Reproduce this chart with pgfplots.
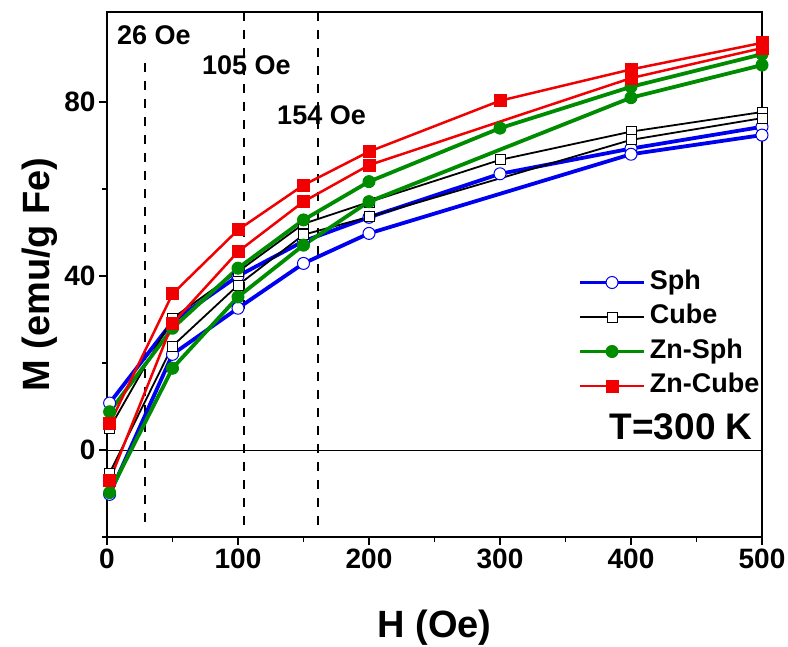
\documentclass[border=0pt]{standalone}
\usepackage{fontspec}
\setmainfont{Liberation Sans}
\usepackage{pgfplots}
\pgfplotsset{compat=1.18}
\definecolor{cblue}{RGB}{0,0,240}
\definecolor{cgreen}{RGB}{0,140,0}
\definecolor{cred}{RGB}{240,0,0}
\begin{document}
\begin{tikzpicture}
\begin{axis}[name=ax, scale only axis, width=655pt, height=525pt,
  xmin=0, xmax=500, ymin=-20, ymax=100.7,
  xtick={0,100,...,500}, minor xtick={50,150,...,450},
  ytick={0,40,80}, minor ytick={-20,20,60},
  tick align=outside, tick pos=left,
  major tick length=8pt, minor tick length=5pt,
  every tick/.style={black, line width=1.5pt},
  axis line style={line width=1.5pt},
  /pgf/number format/assume math mode=true,
  ticklabel style={font=\fontsize{28}{30}\selectfont\bfseries},
  xlabel={H (Oe)}, ylabel={M (emu/g Fe)},
  label style={font=\fontsize{38}{40}\selectfont\bfseries},
  xlabel style={at={(axis description cs:0.5,-0.1733)}, anchor=center},
  ylabel style={at={(axis description cs:-0.1023,0.5)}, anchor=center},
  legend cell align=left,
  legend image code/.code={\draw[mark repeat=2,mark phase=2,#1] plot coordinates {(0pt,0pt) (32pt,0pt) (64pt,0pt)};},
  legend style={draw=none, fill=none, at={(rel axis cs:0.719,0.518)}, anchor=north west,
    font=\fontsize{27}{29}\selectfont\bfseries, inner sep=0pt, row sep=0pt,
    nodes={text height=20pt, text depth=6.5pt, inner sep=4pt}},
]
% reference lines
\addplot[forget plot, black, line width=1pt] coordinates {(0,0) (500,0)};
\addplot[forget plot, black, line width=1.5pt, dash pattern=on 9pt off 9pt] coordinates {(29,89) (29,-18)};
\addplot[forget plot, black, line width=1.5pt, dash pattern=on 9pt off 9pt] coordinates {(104.6,100.7) (104.6,-18)};
\addplot[forget plot, black, line width=1.5pt, dash pattern=on 9pt off 9pt] coordinates {(161,100.7) (161,-18)};
% Sph
\addplot[cblue, line width=3.8pt, mark=*, mark size=6pt, mark options={solid, fill=white, draw=cblue, line width=1pt}]
  coordinates {(2,10.8) (50,29.5) (100,40) (150,48) (200,53.5) (300,63.5) (400,69.3) (500,74.3)};
\addlegendentry{Sph}
\addplot[forget plot, cblue, line width=3.8pt, mark=*, mark size=6pt, mark options={solid, fill=white, draw=cblue, line width=1pt}]
  coordinates {(2,-10.2) (50,22) (100,32.6) (150,42.9) (200,49.8) (400,68) (500,72.4)};
% Cube
\addplot[black, line width=1.8pt, mark=square*, mark size=5pt, mark options={solid, fill=white, line width=1pt}]
  coordinates {(2,5) (50,30.3) (100,41) (150,52) (200,57) (300,66.7) (400,73.2) (500,77.7)};
\addlegendentry{Cube}
\addplot[forget plot, black, line width=1.8pt, mark=square*, mark size=5pt, mark options={solid, fill=white, line width=1pt}]
  coordinates {(2,-5.3) (50,23.9) (100,37.9) (150,49.5) (200,53.6) (400,71.3) (500,76.3)};
% Zn-Sph
\addplot[cgreen, line width=3.8pt, mark=*, mark size=6pt, mark options={solid, fill=cgreen, line width=1pt}]
  coordinates {(2,8.8) (50,28) (100,41.8) (150,52.9) (200,61.7) (300,74) (400,83.5) (500,91)};
\addlegendentry{Zn-Sph}
\addplot[forget plot, cgreen, line width=3.8pt, mark=*, mark size=6pt, mark options={solid, fill=cgreen, line width=1pt}]
  coordinates {(2,-9.8) (50,18.8) (100,35.2) (150,47.1) (200,57.1) (400,81) (500,88.5)};
% Zn-Cube
\addplot[cred, line width=2.5pt, mark=square*, mark size=6pt, mark options={solid, fill=cred, line width=1pt}]
  coordinates {(2,6) (50,35.9) (100,50.6) (150,60.9) (200,68.6) (300,80.3) (400,87.5) (500,93.6)};
\addlegendentry{Zn-Cube}
\addplot[forget plot, cred, line width=2.5pt, mark=square*, mark size=6pt, mark options={solid, fill=cred, line width=1pt}]
  coordinates {(2,-7) (50,29.1) (100,45.6) (150,57.1) (200,65.5) (400,85.5) (500,92.4)};
% annotations
\node[anchor=west, inner sep=0pt, font=\fontsize{27}{29}\selectfont\bfseries] at (axis cs:7.6,95.4) {26 Oe};
\node[anchor=west, inner sep=0pt, font=\fontsize{27}{29}\selectfont\bfseries] at (axis cs:72.5,88.5) {105 Oe};
\node[anchor=west, inner sep=0pt, font=\fontsize{27}{29}\selectfont\bfseries] at (axis cs:129.8,77) {154 Oe};
\node[anchor=east, inner sep=0pt, font=\fontsize{37}{39}\selectfont\bfseries] at (axis cs:493,5.3) {T=300 K};
\end{axis}
\pgfresetboundingbox
\path ([xshift=-107pt,yshift=-109pt]ax.south west) rectangle ([xshift=26pt,yshift=12pt]ax.north east);
\end{tikzpicture}
\end{document}
